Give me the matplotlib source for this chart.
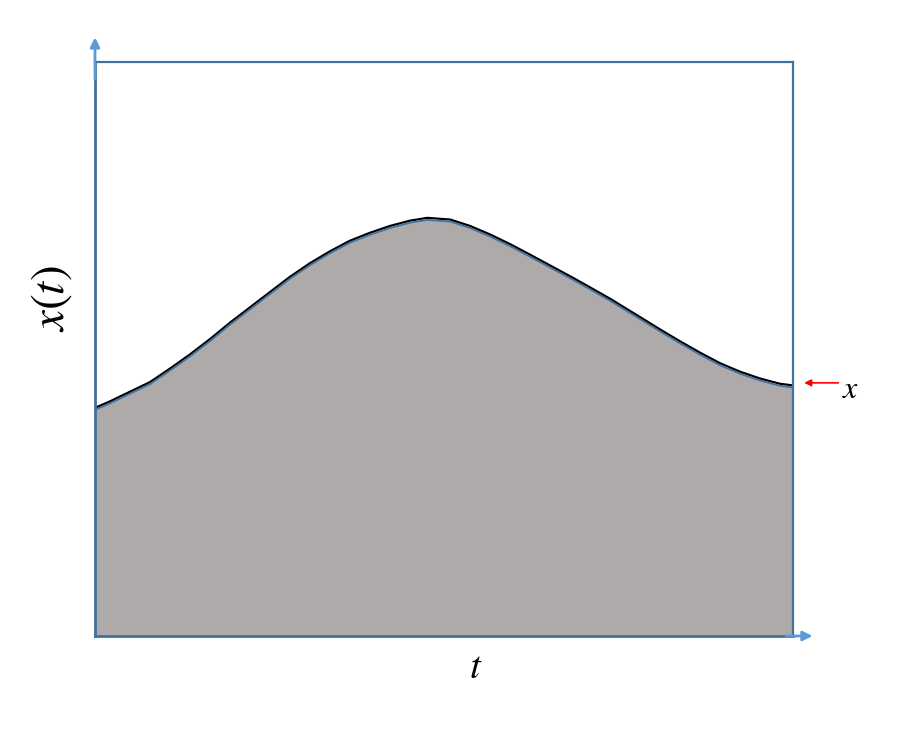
import numpy as np
import matplotlib.pyplot as plt

# ---- curve (t and x(t) on a 0..100 scale) ----
T_VALS = [0.0, 2.1, 5.0, 7.9, 10.7, 13.6, 16.5, 19.3, 22.2, 25.1, 27.9, 30.8,
          33.7, 36.5, 39.4, 42.3, 45.1, 47.6, 50.9, 53.7, 56.6, 59.5, 62.3,
          65.2, 68.1, 70.9, 73.8, 78.1, 80.9, 83.8, 86.7, 89.5, 92.4,
          95.3, 98.1, 100.0]
X_VALS = [39.5, 40.6, 42.3, 44.0, 46.3, 48.8, 51.5, 54.3, 57.0, 59.7, 62.3,
          64.7, 66.8, 68.6, 70.0, 71.2, 72.1, 72.6, 72.3, 71.2, 69.7, 68.0,
          66.2, 64.3, 62.4, 60.5, 58.5, 55.3, 53.2, 51.1, 49.1, 47.3, 45.8,
          44.6, 43.7, 43.4]

X_LABEL = "$t$"
Y_LABEL = "$x(t)$"
MARK_LABEL = "$x$"

FILL_COLOR = "#AEAAAA"
BOX_COLOR = "#41719C"
AXIS_COLOR = "#5B9BD5"

plt.rcParams["mathtext.fontset"] = "stix"

fig = plt.figure(figsize=(8.98, 7.32), dpi=100)
ax = fig.add_axes([95 / 898, 96 / 732, 698 / 898, 574 / 732])
ax.set_xlim(0, 100)
ax.set_ylim(0, 100)
ax.set_xticks([])
ax.set_yticks([])

t = np.array(T_VALS)
x = np.array(X_VALS)
ax.fill_between(t, 0, x, color=FILL_COLOR, linewidth=0, zorder=1)
ax.plot(t, x + 0.25, color="black", lw=1.6, zorder=2, solid_joinstyle="round")
ax.plot(t, x - 0.1, color=BOX_COLOR, lw=1.3, zorder=3, solid_joinstyle="round")

for side in ["top", "right"]:
    ax.spines[side].set_color(BOX_COLOR)
    ax.spines[side].set_linewidth(1.6)
for side in ["left", "bottom"]:
    ax.spines[side].set_color(BOX_COLOR)
    ax.spines[side].set_linewidth(2.0)

# axis arrows going past the box
arrow_kw = dict(arrowstyle="-|>", color=AXIS_COLOR, lw=2.0, mutation_scale=14,
                shrinkA=0, shrinkB=0)
ax.annotate("", xy=(0, 1.043), xytext=(0, 0.97), xycoords="axes fraction",
            arrowprops=arrow_kw, annotation_clip=False)
ax.annotate("", xy=(1.028, 0), xytext=(0.99, 0), xycoords="axes fraction",
            arrowprops=arrow_kw, annotation_clip=False)

# red pointer at the end value
ax.annotate("", xy=(101.6, X_VALS[-1] + 0.7), xytext=(106.5, X_VALS[-1] + 0.7),
            arrowprops=dict(arrowstyle="-|>", color="red", lw=1.2,
                            mutation_scale=10, shrinkA=0, shrinkB=0),
            annotation_clip=False)
ax.text(108.2, X_VALS[-1] - 0.5, MARK_LABEL, fontsize=23, ha="center",
        va="center", clip_on=False)

fig.text(52 / 898, 1 - 299 / 732, Y_LABEL, fontsize=34, rotation=90,
         ha="center", va="center")
fig.text(476 / 898, 1 - 667 / 732, X_LABEL, fontsize=28, ha="center",
         va="center")

fig.savefig("out.png", dpi=100)
